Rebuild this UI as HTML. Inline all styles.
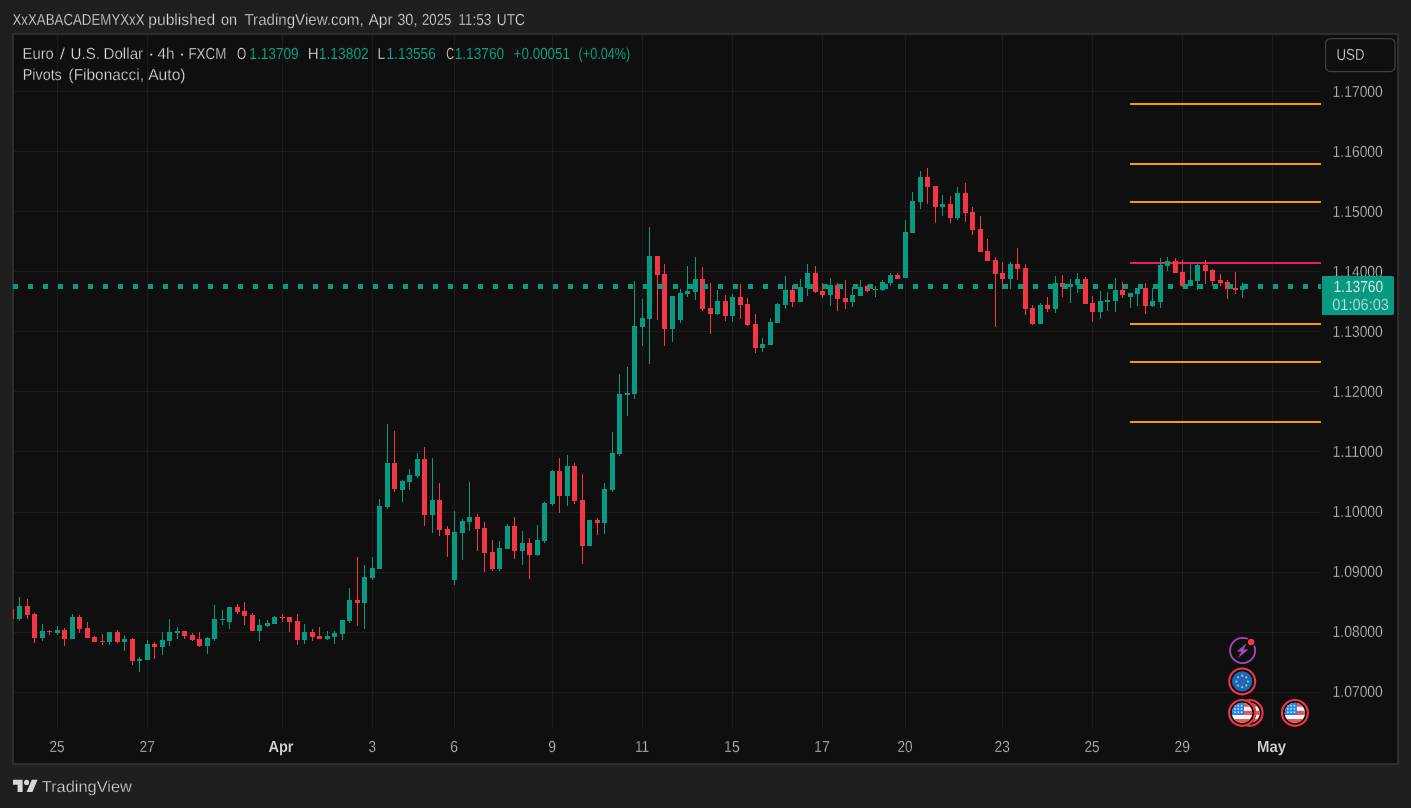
<!DOCTYPE html>
<html lang="en"><head><meta charset="utf-8"><title>EURUSD chart snapshot</title>
<style>
html,body{margin:0;padding:0;background:#1f1f1f;}
body{width:1411px;height:808px;overflow:hidden;}
svg{display:block;font-family:"Liberation Sans", Arial, sans-serif;}
.c rect{shape-rendering:crispEdges}
text{white-space:pre}
</style></head><body>
<svg width="1411" height="808" viewBox="0 0 1411 808">
<rect width="1411" height="808" fill="#1f1f1f"/>
<rect x="12" y="33" width="1387" height="732" fill="#2e2e2e" shape-rendering="crispEdges"/>
<rect x="14" y="35" width="1383" height="728" fill="#0f0f0f" shape-rendering="crispEdges"/>
<defs><clipPath id="cp"><rect x="13" y="35" width="1308" height="694"/></clipPath></defs>

<g class="c" fill="rgba(242,242,242,0.06)">
<rect x="14" y="91" width="1307" height="1"/>
<rect x="14" y="151" width="1307" height="1"/>
<rect x="14" y="211" width="1307" height="1"/>
<rect x="14" y="271" width="1307" height="1"/>
<rect x="14" y="331" width="1307" height="1"/>
<rect x="14" y="391" width="1307" height="1"/>
<rect x="14" y="451" width="1307" height="1"/>
<rect x="14" y="512" width="1307" height="1"/>
<rect x="14" y="572" width="1307" height="1"/>
<rect x="14" y="632" width="1307" height="1"/>
<rect x="14" y="692" width="1307" height="1"/>
<rect x="57" y="35" width="1" height="694"/>
<rect x="147" y="35" width="1" height="694"/>
<rect x="282" y="35" width="1" height="694"/>
<rect x="372" y="35" width="1" height="694"/>
<rect x="454" y="35" width="1" height="694"/>
<rect x="552" y="35" width="1" height="694"/>
<rect x="642" y="35" width="1" height="694"/>
<rect x="732" y="35" width="1" height="694"/>
<rect x="822" y="35" width="1" height="694"/>
<rect x="905" y="35" width="1" height="694"/>
<rect x="1002" y="35" width="1" height="694"/>
<rect x="1092" y="35" width="1" height="694"/>
<rect x="1182" y="35" width="1" height="694"/>
<rect x="1272" y="35" width="1" height="694"/>
</g>
<g class="c">
<rect x="1130" y="103" width="191" height="2" fill="#ff9800"/>
<rect x="1130" y="163" width="191" height="2" fill="#ff9800"/>
<rect x="1130" y="201" width="191" height="2" fill="#ff9800"/>
<rect x="1130" y="323" width="191" height="2" fill="#ff9800"/>
<rect x="1130" y="361" width="191" height="2" fill="#ff9800"/>
<rect x="1130" y="421" width="191" height="2" fill="#ff9800"/>
<rect x="1130" y="262" width="191" height="2" fill="#e91e63"/>
</g>
<g class="c" clip-path="url(#cp)">
<rect x="11" y="607" width="1" height="14" fill="#f23645"/><rect x="9" y="609" width="5" height="10" fill="#f23645"/>
<rect x="19" y="597" width="1" height="24" fill="#089981"/><rect x="17" y="606" width="5" height="13" fill="#089981"/>
<rect x="27" y="599" width="1" height="20" fill="#f23645"/><rect x="25" y="606" width="5" height="9" fill="#f23645"/>
<rect x="34" y="613" width="1" height="30" fill="#f23645"/><rect x="32" y="614" width="5" height="24" fill="#f23645"/>
<rect x="42" y="624" width="1" height="17" fill="#089981"/><rect x="40" y="631" width="5" height="7" fill="#089981"/>
<rect x="49" y="630" width="1" height="5" fill="#f23645"/><rect x="47" y="631" width="5" height="1" fill="#f23645"/>
<rect x="57" y="626" width="1" height="9" fill="#089981"/><rect x="55" y="630" width="5" height="3" fill="#089981"/>
<rect x="64" y="628" width="1" height="18" fill="#f23645"/><rect x="62" y="630" width="5" height="9" fill="#f23645"/>
<rect x="72" y="614" width="1" height="25" fill="#089981"/><rect x="70" y="617" width="5" height="22" fill="#089981"/>
<rect x="79" y="615" width="1" height="18" fill="#f23645"/><rect x="77" y="617" width="5" height="12" fill="#f23645"/>
<rect x="87" y="622" width="1" height="16" fill="#f23645"/><rect x="85" y="628" width="5" height="10" fill="#f23645"/>
<rect x="94" y="636" width="1" height="6" fill="#f23645"/><rect x="92" y="637" width="5" height="5" fill="#f23645"/>
<rect x="102" y="634" width="1" height="11" fill="#f23645"/><rect x="100" y="641" width="5" height="1" fill="#f23645"/>
<rect x="109" y="632" width="1" height="13" fill="#089981"/><rect x="107" y="632" width="5" height="10" fill="#089981"/>
<rect x="117" y="630" width="1" height="13" fill="#f23645"/><rect x="115" y="632" width="5" height="10" fill="#f23645"/>
<rect x="124" y="635" width="1" height="16" fill="#089981"/><rect x="122" y="639" width="5" height="3" fill="#089981"/>
<rect x="132" y="638" width="1" height="27" fill="#f23645"/><rect x="130" y="639" width="5" height="22" fill="#f23645"/>
<rect x="139" y="657" width="1" height="15" fill="#089981"/><rect x="137" y="659" width="5" height="2" fill="#089981"/>
<rect x="147" y="640" width="1" height="20" fill="#089981"/><rect x="145" y="644" width="5" height="16" fill="#089981"/>
<rect x="154" y="642" width="1" height="17" fill="#f23645"/><rect x="152" y="644" width="5" height="3" fill="#f23645"/>
<rect x="162" y="632" width="1" height="23" fill="#089981"/><rect x="160" y="640" width="5" height="7" fill="#089981"/>
<rect x="169" y="619" width="1" height="27" fill="#089981"/><rect x="167" y="632" width="5" height="9" fill="#089981"/>
<rect x="177" y="627" width="1" height="12" fill="#089981"/><rect x="175" y="631" width="5" height="2" fill="#089981"/>
<rect x="184" y="631" width="1" height="8" fill="#f23645"/><rect x="182" y="631" width="5" height="5" fill="#f23645"/>
<rect x="192" y="633" width="1" height="8" fill="#f23645"/><rect x="190" y="635" width="5" height="5" fill="#f23645"/>
<rect x="199" y="632" width="1" height="15" fill="#f23645"/><rect x="197" y="639" width="5" height="7" fill="#f23645"/>
<rect x="207" y="637" width="1" height="17" fill="#089981"/><rect x="205" y="638" width="5" height="8" fill="#089981"/>
<rect x="214" y="605" width="1" height="36" fill="#089981"/><rect x="212" y="619" width="5" height="20" fill="#089981"/>
<rect x="222" y="610" width="1" height="15" fill="#089981"/><rect x="220" y="619" width="5" height="1" fill="#089981"/>
<rect x="229" y="607" width="1" height="22" fill="#089981"/><rect x="227" y="607" width="5" height="15" fill="#089981"/>
<rect x="237" y="604" width="1" height="10" fill="#f23645"/><rect x="235" y="607" width="5" height="5" fill="#f23645"/>
<rect x="244" y="602" width="1" height="23" fill="#f23645"/><rect x="242" y="611" width="5" height="5" fill="#f23645"/>
<rect x="252" y="613" width="1" height="18" fill="#f23645"/><rect x="250" y="615" width="5" height="16" fill="#f23645"/>
<rect x="259" y="619" width="1" height="22" fill="#089981"/><rect x="257" y="625" width="5" height="6" fill="#089981"/>
<rect x="267" y="620" width="1" height="7" fill="#089981"/><rect x="265" y="623" width="5" height="3" fill="#089981"/>
<rect x="274" y="616" width="1" height="8" fill="#089981"/><rect x="272" y="617" width="5" height="7" fill="#089981"/>
<rect x="282" y="614" width="1" height="8" fill="#f23645"/><rect x="280" y="617" width="5" height="1" fill="#f23645"/>
<rect x="289" y="617" width="1" height="15" fill="#f23645"/><rect x="287" y="617" width="5" height="5" fill="#f23645"/>
<rect x="297" y="614" width="1" height="31" fill="#f23645"/><rect x="295" y="621" width="5" height="19" fill="#f23645"/>
<rect x="304" y="624" width="1" height="20" fill="#089981"/><rect x="302" y="632" width="5" height="8" fill="#089981"/>
<rect x="312" y="629" width="1" height="12" fill="#f23645"/><rect x="310" y="632" width="5" height="5" fill="#f23645"/>
<rect x="319" y="627" width="1" height="12" fill="#f23645"/><rect x="317" y="636" width="5" height="3" fill="#f23645"/>
<rect x="327" y="631" width="1" height="9" fill="#089981"/><rect x="325" y="636" width="5" height="3" fill="#089981"/>
<rect x="334" y="631" width="1" height="13" fill="#089981"/><rect x="332" y="633" width="5" height="4" fill="#089981"/>
<rect x="342" y="620" width="1" height="20" fill="#089981"/><rect x="340" y="620" width="5" height="14" fill="#089981"/>
<rect x="349" y="588" width="1" height="35" fill="#089981"/><rect x="347" y="600" width="5" height="21" fill="#089981"/>
<rect x="357" y="557" width="1" height="69" fill="#f23645"/><rect x="355" y="600" width="5" height="3" fill="#f23645"/>
<rect x="364" y="565" width="1" height="64" fill="#089981"/><rect x="362" y="577" width="5" height="26" fill="#089981"/>
<rect x="372" y="557" width="1" height="23" fill="#089981"/><rect x="370" y="568" width="5" height="10" fill="#089981"/>
<rect x="379" y="499" width="1" height="70" fill="#089981"/><rect x="377" y="506" width="5" height="63" fill="#089981"/>
<rect x="387" y="424" width="1" height="85" fill="#089981"/><rect x="385" y="463" width="5" height="44" fill="#089981"/>
<rect x="394" y="431" width="1" height="61" fill="#f23645"/><rect x="392" y="463" width="5" height="26" fill="#f23645"/>
<rect x="402" y="480" width="1" height="22" fill="#089981"/><rect x="400" y="481" width="5" height="9" fill="#089981"/>
<rect x="409" y="469" width="1" height="21" fill="#089981"/><rect x="407" y="475" width="5" height="7" fill="#089981"/>
<rect x="417" y="453" width="1" height="25" fill="#089981"/><rect x="415" y="459" width="5" height="17" fill="#089981"/>
<rect x="424" y="447" width="1" height="79" fill="#f23645"/><rect x="422" y="459" width="5" height="56" fill="#f23645"/>
<rect x="432" y="458" width="1" height="75" fill="#089981"/><rect x="430" y="500" width="5" height="15" fill="#089981"/>
<rect x="439" y="483" width="1" height="53" fill="#f23645"/><rect x="437" y="500" width="5" height="30" fill="#f23645"/>
<rect x="447" y="526" width="1" height="31" fill="#f23645"/><rect x="445" y="529" width="5" height="6" fill="#f23645"/>
<rect x="454" y="511" width="1" height="74" fill="#089981"/><rect x="452" y="532" width="5" height="48" fill="#089981"/>
<rect x="462" y="519" width="1" height="41" fill="#089981"/><rect x="460" y="521" width="5" height="12" fill="#089981"/>
<rect x="469" y="482" width="1" height="49" fill="#089981"/><rect x="467" y="517" width="5" height="5" fill="#089981"/>
<rect x="477" y="514" width="1" height="37" fill="#f23645"/><rect x="475" y="517" width="5" height="12" fill="#f23645"/>
<rect x="484" y="522" width="1" height="50" fill="#f23645"/><rect x="482" y="528" width="5" height="25" fill="#f23645"/>
<rect x="492" y="540" width="1" height="31" fill="#f23645"/><rect x="490" y="552" width="5" height="17" fill="#f23645"/>
<rect x="499" y="541" width="1" height="30" fill="#089981"/><rect x="497" y="548" width="5" height="21" fill="#089981"/>
<rect x="507" y="524" width="1" height="25" fill="#089981"/><rect x="505" y="526" width="5" height="23" fill="#089981"/>
<rect x="514" y="517" width="1" height="42" fill="#f23645"/><rect x="512" y="526" width="5" height="25" fill="#f23645"/>
<rect x="522" y="531" width="1" height="34" fill="#089981"/><rect x="520" y="543" width="5" height="8" fill="#089981"/>
<rect x="529" y="538" width="1" height="41" fill="#f23645"/><rect x="527" y="543" width="5" height="12" fill="#f23645"/>
<rect x="537" y="525" width="1" height="31" fill="#089981"/><rect x="535" y="540" width="5" height="15" fill="#089981"/>
<rect x="544" y="502" width="1" height="41" fill="#089981"/><rect x="542" y="503" width="5" height="38" fill="#089981"/>
<rect x="552" y="470" width="1" height="36" fill="#089981"/><rect x="550" y="471" width="5" height="33" fill="#089981"/>
<rect x="559" y="458" width="1" height="55" fill="#f23645"/><rect x="557" y="471" width="5" height="25" fill="#f23645"/>
<rect x="567" y="455" width="1" height="51" fill="#089981"/><rect x="565" y="466" width="5" height="30" fill="#089981"/>
<rect x="574" y="463" width="1" height="41" fill="#f23645"/><rect x="572" y="466" width="5" height="35" fill="#f23645"/>
<rect x="582" y="474" width="1" height="90" fill="#f23645"/><rect x="580" y="500" width="5" height="46" fill="#f23645"/>
<rect x="589" y="520" width="1" height="26" fill="#089981"/><rect x="587" y="520" width="5" height="26" fill="#089981"/>
<rect x="597" y="518" width="1" height="17" fill="#f23645"/><rect x="595" y="520" width="5" height="3" fill="#f23645"/>
<rect x="604" y="483" width="1" height="51" fill="#089981"/><rect x="602" y="489" width="5" height="34" fill="#089981"/>
<rect x="612" y="432" width="1" height="60" fill="#089981"/><rect x="610" y="453" width="5" height="37" fill="#089981"/>
<rect x="619" y="374" width="1" height="82" fill="#089981"/><rect x="617" y="394" width="5" height="60" fill="#089981"/>
<rect x="627" y="367" width="1" height="49" fill="#089981"/><rect x="625" y="393" width="5" height="2" fill="#089981"/>
<rect x="634" y="281" width="1" height="118" fill="#089981"/><rect x="632" y="326" width="5" height="68" fill="#089981"/>
<rect x="642" y="299" width="1" height="47" fill="#089981"/><rect x="640" y="318" width="5" height="9" fill="#089981"/>
<rect x="649" y="227" width="1" height="137" fill="#089981"/><rect x="647" y="256" width="5" height="63" fill="#089981"/>
<rect x="657" y="256" width="1" height="64" fill="#f23645"/><rect x="655" y="256" width="5" height="19" fill="#f23645"/>
<rect x="664" y="264" width="1" height="82" fill="#f23645"/><rect x="662" y="274" width="5" height="55" fill="#f23645"/>
<rect x="672" y="296" width="1" height="46" fill="#089981"/><rect x="670" y="296" width="5" height="33" fill="#089981"/>
<rect x="680" y="289" width="1" height="34" fill="#089981"/><rect x="678" y="293" width="5" height="27" fill="#089981"/>
<rect x="687" y="266" width="1" height="31" fill="#089981"/><rect x="685" y="291" width="5" height="3" fill="#089981"/>
<rect x="695" y="257" width="1" height="43" fill="#089981"/><rect x="693" y="279" width="5" height="13" fill="#089981"/>
<rect x="702" y="267" width="1" height="44" fill="#f23645"/><rect x="700" y="279" width="5" height="30" fill="#f23645"/>
<rect x="710" y="283" width="1" height="51" fill="#f23645"/><rect x="708" y="308" width="5" height="6" fill="#f23645"/>
<rect x="717" y="290" width="1" height="25" fill="#089981"/><rect x="715" y="301" width="5" height="13" fill="#089981"/>
<rect x="725" y="295" width="1" height="26" fill="#f23645"/><rect x="723" y="301" width="5" height="15" fill="#f23645"/>
<rect x="732" y="294" width="1" height="28" fill="#089981"/><rect x="730" y="297" width="5" height="19" fill="#089981"/>
<rect x="740" y="284" width="1" height="35" fill="#f23645"/><rect x="738" y="297" width="5" height="8" fill="#f23645"/>
<rect x="747" y="298" width="1" height="28" fill="#f23645"/><rect x="745" y="304" width="5" height="21" fill="#f23645"/>
<rect x="755" y="314" width="1" height="39" fill="#f23645"/><rect x="753" y="324" width="5" height="24" fill="#f23645"/>
<rect x="762" y="338" width="1" height="14" fill="#089981"/><rect x="760" y="344" width="5" height="4" fill="#089981"/>
<rect x="770" y="318" width="1" height="27" fill="#089981"/><rect x="768" y="322" width="5" height="23" fill="#089981"/>
<rect x="777" y="303" width="1" height="20" fill="#089981"/><rect x="775" y="304" width="5" height="19" fill="#089981"/>
<rect x="785" y="276" width="1" height="33" fill="#089981"/><rect x="783" y="290" width="5" height="15" fill="#089981"/>
<rect x="792" y="285" width="1" height="22" fill="#f23645"/><rect x="790" y="290" width="5" height="12" fill="#f23645"/>
<rect x="800" y="279" width="1" height="23" fill="#089981"/><rect x="798" y="287" width="5" height="15" fill="#089981"/>
<rect x="807" y="264" width="1" height="32" fill="#089981"/><rect x="805" y="273" width="5" height="15" fill="#089981"/>
<rect x="815" y="266" width="1" height="27" fill="#f23645"/><rect x="813" y="273" width="5" height="19" fill="#f23645"/>
<rect x="822" y="283" width="1" height="15" fill="#f23645"/><rect x="820" y="291" width="5" height="4" fill="#f23645"/>
<rect x="830" y="278" width="1" height="28" fill="#089981"/><rect x="828" y="285" width="5" height="10" fill="#089981"/>
<rect x="837" y="283" width="1" height="28" fill="#f23645"/><rect x="835" y="285" width="5" height="14" fill="#f23645"/>
<rect x="845" y="280" width="1" height="29" fill="#f23645"/><rect x="843" y="298" width="5" height="4" fill="#f23645"/>
<rect x="852" y="287" width="1" height="20" fill="#089981"/><rect x="850" y="295" width="5" height="7" fill="#089981"/>
<rect x="860" y="280" width="1" height="16" fill="#089981"/><rect x="858" y="287" width="5" height="9" fill="#089981"/>
<rect x="867" y="285" width="1" height="7" fill="#f23645"/><rect x="865" y="286" width="5" height="5" fill="#f23645"/>
<rect x="875" y="286" width="1" height="11" fill="#089981"/><rect x="873" y="289" width="5" height="1" fill="#089981"/>
<rect x="882" y="280" width="1" height="11" fill="#089981"/><rect x="880" y="282" width="5" height="8" fill="#089981"/>
<rect x="890" y="273" width="1" height="13" fill="#089981"/><rect x="888" y="275" width="5" height="8" fill="#089981"/>
<rect x="897" y="273" width="1" height="6" fill="#f23645"/><rect x="895" y="275" width="5" height="4" fill="#f23645"/>
<rect x="905" y="220" width="1" height="58" fill="#089981"/><rect x="903" y="232" width="5" height="46" fill="#089981"/>
<rect x="912" y="192" width="1" height="41" fill="#089981"/><rect x="910" y="201" width="5" height="32" fill="#089981"/>
<rect x="920" y="171" width="1" height="38" fill="#089981"/><rect x="918" y="177" width="5" height="25" fill="#089981"/>
<rect x="927" y="168" width="1" height="36" fill="#f23645"/><rect x="925" y="177" width="5" height="10" fill="#f23645"/>
<rect x="935" y="186" width="1" height="37" fill="#f23645"/><rect x="933" y="186" width="5" height="21" fill="#f23645"/>
<rect x="942" y="195" width="1" height="21" fill="#089981"/><rect x="940" y="204" width="5" height="3" fill="#089981"/>
<rect x="950" y="196" width="1" height="27" fill="#f23645"/><rect x="948" y="204" width="5" height="14" fill="#f23645"/>
<rect x="957" y="187" width="1" height="33" fill="#089981"/><rect x="955" y="193" width="5" height="25" fill="#089981"/>
<rect x="965" y="183" width="1" height="39" fill="#f23645"/><rect x="963" y="193" width="5" height="20" fill="#f23645"/>
<rect x="972" y="207" width="1" height="28" fill="#f23645"/><rect x="970" y="212" width="5" height="18" fill="#f23645"/>
<rect x="980" y="216" width="1" height="36" fill="#f23645"/><rect x="978" y="229" width="5" height="23" fill="#f23645"/>
<rect x="987" y="239" width="1" height="22" fill="#f23645"/><rect x="985" y="251" width="5" height="10" fill="#f23645"/>
<rect x="995" y="257" width="1" height="70" fill="#f23645"/><rect x="993" y="260" width="5" height="14" fill="#f23645"/>
<rect x="1002" y="262" width="1" height="27" fill="#f23645"/><rect x="1000" y="273" width="5" height="6" fill="#f23645"/>
<rect x="1010" y="262" width="1" height="27" fill="#089981"/><rect x="1008" y="264" width="5" height="15" fill="#089981"/>
<rect x="1017" y="248" width="1" height="32" fill="#f23645"/><rect x="1015" y="264" width="5" height="5" fill="#f23645"/>
<rect x="1025" y="264" width="1" height="51" fill="#f23645"/><rect x="1023" y="268" width="5" height="41" fill="#f23645"/>
<rect x="1032" y="305" width="1" height="20" fill="#f23645"/><rect x="1030" y="308" width="5" height="16" fill="#f23645"/>
<rect x="1040" y="303" width="1" height="21" fill="#089981"/><rect x="1038" y="305" width="5" height="19" fill="#089981"/>
<rect x="1047" y="297" width="1" height="15" fill="#f23645"/><rect x="1045" y="305" width="5" height="4" fill="#f23645"/>
<rect x="1055" y="276" width="1" height="37" fill="#089981"/><rect x="1053" y="283" width="5" height="26" fill="#089981"/>
<rect x="1062" y="275" width="1" height="22" fill="#f23645"/><rect x="1060" y="283" width="5" height="4" fill="#f23645"/>
<rect x="1070" y="279" width="1" height="24" fill="#089981"/><rect x="1068" y="284" width="5" height="3" fill="#089981"/>
<rect x="1077" y="273" width="1" height="20" fill="#089981"/><rect x="1075" y="279" width="5" height="6" fill="#089981"/>
<rect x="1085" y="277" width="1" height="27" fill="#f23645"/><rect x="1083" y="279" width="5" height="25" fill="#f23645"/>
<rect x="1092" y="296" width="1" height="26" fill="#f23645"/><rect x="1090" y="303" width="5" height="9" fill="#f23645"/>
<rect x="1100" y="291" width="1" height="28" fill="#089981"/><rect x="1098" y="301" width="5" height="11" fill="#089981"/>
<rect x="1107" y="292" width="1" height="19" fill="#089981"/><rect x="1105" y="300" width="5" height="2" fill="#089981"/>
<rect x="1115" y="278" width="1" height="34" fill="#089981"/><rect x="1113" y="290" width="5" height="11" fill="#089981"/>
<rect x="1122" y="282" width="1" height="16" fill="#f23645"/><rect x="1120" y="290" width="5" height="5" fill="#f23645"/>
<rect x="1130" y="293" width="1" height="15" fill="#089981"/><rect x="1128" y="293" width="5" height="4" fill="#089981"/>
<rect x="1137" y="288" width="1" height="18" fill="#089981"/><rect x="1135" y="288" width="5" height="6" fill="#089981"/>
<rect x="1145" y="283" width="1" height="31" fill="#f23645"/><rect x="1143" y="288" width="5" height="18" fill="#f23645"/>
<rect x="1152" y="288" width="1" height="19" fill="#089981"/><rect x="1150" y="301" width="5" height="5" fill="#089981"/>
<rect x="1160" y="258" width="1" height="50" fill="#089981"/><rect x="1158" y="265" width="5" height="37" fill="#089981"/>
<rect x="1167" y="257" width="1" height="14" fill="#089981"/><rect x="1165" y="261" width="5" height="5" fill="#089981"/>
<rect x="1175" y="258" width="1" height="15" fill="#f23645"/><rect x="1173" y="261" width="5" height="12" fill="#f23645"/>
<rect x="1182" y="260" width="1" height="27" fill="#f23645"/><rect x="1180" y="272" width="5" height="14" fill="#f23645"/>
<rect x="1190" y="264" width="1" height="22" fill="#089981"/><rect x="1188" y="280" width="5" height="6" fill="#089981"/>
<rect x="1197" y="263" width="1" height="27" fill="#089981"/><rect x="1195" y="265" width="5" height="16" fill="#089981"/>
<rect x="1205" y="260" width="1" height="24" fill="#f23645"/><rect x="1203" y="265" width="5" height="6" fill="#f23645"/>
<rect x="1212" y="269" width="1" height="17" fill="#f23645"/><rect x="1210" y="270" width="5" height="11" fill="#f23645"/>
<rect x="1220" y="274" width="1" height="12" fill="#f23645"/><rect x="1218" y="280" width="5" height="3" fill="#f23645"/>
<rect x="1227" y="280" width="1" height="19" fill="#f23645"/><rect x="1225" y="282" width="5" height="7" fill="#f23645"/>
<rect x="1235" y="272" width="1" height="22" fill="#f23645"/><rect x="1233" y="288" width="5" height="2" fill="#f23645"/>
<rect x="1242" y="283" width="1" height="15" fill="#089981"/><rect x="1240" y="286" width="5" height="4" fill="#089981"/>
</g>
<g class="c" fill="#089981" clip-path="url(#cp)">
<rect x="13" y="284" width="5" height="5"/>
<rect x="28" y="284" width="5" height="5"/>
<rect x="43" y="284" width="5" height="5"/>
<rect x="58" y="284" width="5" height="5"/>
<rect x="73" y="284" width="5" height="5"/>
<rect x="88" y="284" width="5" height="5"/>
<rect x="103" y="284" width="5" height="5"/>
<rect x="118" y="284" width="5" height="5"/>
<rect x="133" y="284" width="5" height="5"/>
<rect x="148" y="284" width="5" height="5"/>
<rect x="163" y="284" width="5" height="5"/>
<rect x="178" y="284" width="5" height="5"/>
<rect x="193" y="284" width="5" height="5"/>
<rect x="208" y="284" width="5" height="5"/>
<rect x="223" y="284" width="5" height="5"/>
<rect x="238" y="284" width="5" height="5"/>
<rect x="253" y="284" width="5" height="5"/>
<rect x="268" y="284" width="5" height="5"/>
<rect x="283" y="284" width="5" height="5"/>
<rect x="298" y="284" width="5" height="5"/>
<rect x="313" y="284" width="5" height="5"/>
<rect x="328" y="284" width="5" height="5"/>
<rect x="343" y="284" width="5" height="5"/>
<rect x="358" y="284" width="5" height="5"/>
<rect x="373" y="284" width="5" height="5"/>
<rect x="388" y="284" width="5" height="5"/>
<rect x="403" y="284" width="5" height="5"/>
<rect x="418" y="284" width="5" height="5"/>
<rect x="433" y="284" width="5" height="5"/>
<rect x="448" y="284" width="5" height="5"/>
<rect x="463" y="284" width="5" height="5"/>
<rect x="478" y="284" width="5" height="5"/>
<rect x="493" y="284" width="5" height="5"/>
<rect x="508" y="284" width="5" height="5"/>
<rect x="523" y="284" width="5" height="5"/>
<rect x="538" y="284" width="5" height="5"/>
<rect x="553" y="284" width="5" height="5"/>
<rect x="568" y="284" width="5" height="5"/>
<rect x="583" y="284" width="5" height="5"/>
<rect x="598" y="284" width="5" height="5"/>
<rect x="613" y="284" width="5" height="5"/>
<rect x="628" y="284" width="5" height="5"/>
<rect x="643" y="284" width="5" height="5"/>
<rect x="658" y="284" width="5" height="5"/>
<rect x="673" y="284" width="5" height="5"/>
<rect x="688" y="284" width="5" height="5"/>
<rect x="703" y="284" width="5" height="5"/>
<rect x="718" y="284" width="5" height="5"/>
<rect x="733" y="284" width="5" height="5"/>
<rect x="748" y="284" width="5" height="5"/>
<rect x="763" y="284" width="5" height="5"/>
<rect x="778" y="284" width="5" height="5"/>
<rect x="793" y="284" width="5" height="5"/>
<rect x="808" y="284" width="5" height="5"/>
<rect x="823" y="284" width="5" height="5"/>
<rect x="838" y="284" width="5" height="5"/>
<rect x="853" y="284" width="5" height="5"/>
<rect x="868" y="284" width="5" height="5"/>
<rect x="883" y="284" width="5" height="5"/>
<rect x="898" y="284" width="5" height="5"/>
<rect x="913" y="284" width="5" height="5"/>
<rect x="928" y="284" width="5" height="5"/>
<rect x="943" y="284" width="5" height="5"/>
<rect x="958" y="284" width="5" height="5"/>
<rect x="973" y="284" width="5" height="5"/>
<rect x="988" y="284" width="5" height="5"/>
<rect x="1003" y="284" width="5" height="5"/>
<rect x="1018" y="284" width="5" height="5"/>
<rect x="1033" y="284" width="5" height="5"/>
<rect x="1048" y="284" width="5" height="5"/>
<rect x="1063" y="284" width="5" height="5"/>
<rect x="1078" y="284" width="5" height="5"/>
<rect x="1093" y="284" width="5" height="5"/>
<rect x="1108" y="284" width="5" height="5"/>
<rect x="1123" y="284" width="5" height="5"/>
<rect x="1138" y="284" width="5" height="5"/>
<rect x="1153" y="284" width="5" height="5"/>
<rect x="1168" y="284" width="5" height="5"/>
<rect x="1183" y="284" width="5" height="5"/>
<rect x="1198" y="284" width="5" height="5"/>
<rect x="1213" y="284" width="5" height="5"/>
<rect x="1228" y="284" width="5" height="5"/>
<rect x="1243" y="284" width="5" height="5"/>
<rect x="1258" y="284" width="5" height="5"/>
<rect x="1273" y="284" width="5" height="5"/>
<rect x="1288" y="284" width="5" height="5"/>
<rect x="1303" y="284" width="5" height="5"/>
<rect x="1318" y="284" width="5" height="5"/>
</g>
<rect x="1325.6" y="38.6" width="69.4" height="33" rx="5" ry="5" fill="none" stroke="#404040" stroke-width="1.25"/>
<g>
<circle cx="1249.6" cy="712.9" r="14" fill="#0f0f0f"/><circle cx="1249.6" cy="712.9" r="12.95" fill="none" stroke="#f23645" stroke-width="2.1"/>
<clipPath id="u2"><circle cx="1249.6" cy="712.9" r="10.2"/></clipPath><g clip-path="url(#u2)">
<rect x="1238.6" y="701.9" width="22" height="22" fill="#fafafa"/>
<rect x="1238.6" y="702.65" width="22" height="4.10" fill="#ef5350"/>
<rect x="1238.6" y="710.85" width="22" height="4.10" fill="#ef5350"/>
<rect x="1238.6" y="719.05" width="22" height="4.10" fill="#ef5350"/>
<rect x="1238.6" y="701.9" width="13.0" height="13.05" fill="#1e88e5"/>
<rect x="1241.70" y="704.90" width="1.6" height="1.6" fill="#d4e6f9"/>
<rect x="1245.00" y="704.90" width="1.6" height="1.6" fill="#d4e6f9"/>
<rect x="1248.30" y="704.90" width="1.6" height="1.6" fill="#d4e6f9"/>
<rect x="1241.70" y="708.15" width="1.6" height="1.6" fill="#d4e6f9"/>
<rect x="1245.00" y="708.15" width="1.6" height="1.6" fill="#d4e6f9"/>
<rect x="1248.30" y="708.15" width="1.6" height="1.6" fill="#d4e6f9"/>
<rect x="1241.70" y="711.40" width="1.6" height="1.6" fill="#d4e6f9"/>
<rect x="1245.00" y="711.40" width="1.6" height="1.6" fill="#d4e6f9"/>
<rect x="1248.30" y="711.40" width="1.6" height="1.6" fill="#d4e6f9"/>
</g></g>
<g>
<circle cx="1242.1" cy="712.9" r="14" fill="#0f0f0f"/><circle cx="1242.1" cy="712.9" r="12.95" fill="none" stroke="#f23645" stroke-width="2.1"/>
<clipPath id="u1"><circle cx="1242.1" cy="712.9" r="10.2"/></clipPath><g clip-path="url(#u1)">
<rect x="1231.1" y="701.9" width="22" height="22" fill="#fafafa"/>
<rect x="1231.1" y="702.65" width="22" height="4.10" fill="#ef5350"/>
<rect x="1231.1" y="710.85" width="22" height="4.10" fill="#ef5350"/>
<rect x="1231.1" y="719.05" width="22" height="4.10" fill="#ef5350"/>
<rect x="1231.1" y="701.9" width="13.0" height="13.05" fill="#1e88e5"/>
<rect x="1234.20" y="704.90" width="1.6" height="1.6" fill="#d4e6f9"/>
<rect x="1237.50" y="704.90" width="1.6" height="1.6" fill="#d4e6f9"/>
<rect x="1240.80" y="704.90" width="1.6" height="1.6" fill="#d4e6f9"/>
<rect x="1234.20" y="708.15" width="1.6" height="1.6" fill="#d4e6f9"/>
<rect x="1237.50" y="708.15" width="1.6" height="1.6" fill="#d4e6f9"/>
<rect x="1240.80" y="708.15" width="1.6" height="1.6" fill="#d4e6f9"/>
<rect x="1234.20" y="711.40" width="1.6" height="1.6" fill="#d4e6f9"/>
<rect x="1237.50" y="711.40" width="1.6" height="1.6" fill="#d4e6f9"/>
<rect x="1240.80" y="711.40" width="1.6" height="1.6" fill="#d4e6f9"/>
</g></g>
<g>
<circle cx="1294.9" cy="712.9" r="14" fill="#0f0f0f"/><circle cx="1294.9" cy="712.9" r="12.95" fill="none" stroke="#f23645" stroke-width="2.1"/>
<clipPath id="u3"><circle cx="1294.9" cy="712.9" r="10.2"/></clipPath><g clip-path="url(#u3)">
<rect x="1283.9" y="701.9" width="22" height="22" fill="#fafafa"/>
<rect x="1283.9" y="702.65" width="22" height="4.10" fill="#ef5350"/>
<rect x="1283.9" y="710.85" width="22" height="4.10" fill="#ef5350"/>
<rect x="1283.9" y="719.05" width="22" height="4.10" fill="#ef5350"/>
<rect x="1283.9" y="701.9" width="13.0" height="13.05" fill="#1e88e5"/>
<rect x="1287.00" y="704.90" width="1.6" height="1.6" fill="#d4e6f9"/>
<rect x="1290.30" y="704.90" width="1.6" height="1.6" fill="#d4e6f9"/>
<rect x="1293.60" y="704.90" width="1.6" height="1.6" fill="#d4e6f9"/>
<rect x="1287.00" y="708.15" width="1.6" height="1.6" fill="#d4e6f9"/>
<rect x="1290.30" y="708.15" width="1.6" height="1.6" fill="#d4e6f9"/>
<rect x="1293.60" y="708.15" width="1.6" height="1.6" fill="#d4e6f9"/>
<rect x="1287.00" y="711.40" width="1.6" height="1.6" fill="#d4e6f9"/>
<rect x="1290.30" y="711.40" width="1.6" height="1.6" fill="#d4e6f9"/>
<rect x="1293.60" y="711.40" width="1.6" height="1.6" fill="#d4e6f9"/>
</g></g>
<circle cx="1242.2" cy="681.45" r="14" fill="#0f0f0f"/><circle cx="1242.2" cy="681.45" r="12.95" fill="none" stroke="#f23645" stroke-width="2.1"/>
<circle cx="1242.2" cy="681.45" r="10.1" fill="#1967c2"/>
<circle cx="1242.20" cy="675.65" r="1.05" fill="#e3ca45"/>
<circle cx="1246.30" cy="677.35" r="1.05" fill="#e3ca45"/>
<circle cx="1248.00" cy="681.45" r="1.05" fill="#e3ca45"/>
<circle cx="1246.30" cy="685.55" r="1.05" fill="#e3ca45"/>
<circle cx="1242.20" cy="687.25" r="1.05" fill="#e3ca45"/>
<circle cx="1238.10" cy="685.55" r="1.05" fill="#e3ca45"/>
<circle cx="1236.40" cy="681.45" r="1.05" fill="#e3ca45"/>
<circle cx="1238.10" cy="677.35" r="1.05" fill="#e3ca45"/>
<circle cx="1242.6" cy="650.5" r="12.55" fill="none" stroke="#ab47bc" stroke-width="1.8"/>
<polygon points="1246,643.9 1237.3,651.3 1241.7,651.3 1238.7,657.3 1247.8,649.7 1243.3,649.7" fill="#ab47bc" stroke="#ab47bc" stroke-width="0.5" stroke-linejoin="round"/>
<circle cx="1251.1" cy="641.9" r="4.6" fill="#0f0f0f"/><circle cx="1251.1" cy="641.9" r="3.25" fill="#f23645"/>
<g fill="#d6d6d6"><path d="M13 779.8h9.6v12.2h-5v-7.2H13z"/><circle cx="26.6" cy="782.4" r="2.6"/><path d="M31.8 779.8h5.8l-5.2 12.2h-5.8z"/></g>
<text transform="matrix(1 0 0.001 1 -0.0250 0)" x="12.48" y="25.0" fill="#dedede" font-size="16" textLength="132.15" lengthAdjust="spacingAndGlyphs" stroke="#1f1f1f" stroke-width="0.3">XxXABACADEMYXxX</text>
<text transform="matrix(1 0 0.001 1 -0.0250 0)" x="148.22" y="25.0" fill="#dedede" font-size="16" textLength="67.06" lengthAdjust="spacingAndGlyphs" stroke="#1f1f1f" stroke-width="0.3">published</text>
<text transform="matrix(1 0 0.001 1 -0.0250 0)" x="221.02" y="25.0" fill="#dedede" font-size="16" textLength="16.13" lengthAdjust="spacingAndGlyphs" stroke="#1f1f1f" stroke-width="0.3">on</text>
<text transform="matrix(1 0 0.001 1 -0.0250 0)" x="244.46" y="25.0" fill="#dedede" font-size="16" textLength="119.18" lengthAdjust="spacingAndGlyphs" stroke="#1f1f1f" stroke-width="0.3">TradingView.com,</text>
<text transform="matrix(1 0 0.001 1 -0.0250 0)" x="368.4" y="25.0" fill="#dedede" font-size="16" textLength="24.35" lengthAdjust="spacingAndGlyphs" stroke="#1f1f1f" stroke-width="0.3">Apr</text>
<text transform="matrix(1 0 0.001 1 -0.0250 0)" x="397.24" y="25.0" fill="#dedede" font-size="16" textLength="20.33" lengthAdjust="spacingAndGlyphs" stroke="#1f1f1f" stroke-width="0.3">30,</text>
<text transform="matrix(1 0 0.001 1 -0.0250 0)" x="421.98" y="25.0" fill="#dedede" font-size="16" textLength="29.41" lengthAdjust="spacingAndGlyphs" stroke="#1f1f1f" stroke-width="0.3">2025</text>
<text transform="matrix(1 0 0.001 1 -0.0250 0)" x="458.23" y="25.0" fill="#dedede" font-size="16" textLength="33.19" lengthAdjust="spacingAndGlyphs" stroke="#1f1f1f" stroke-width="0.3">11:53</text>
<text transform="matrix(1 0 0.001 1 -0.0250 0)" x="496.83" y="25.0" fill="#dedede" font-size="16" textLength="28.12" lengthAdjust="spacingAndGlyphs" stroke="#1f1f1f" stroke-width="0.3">UTC</text>
<text transform="matrix(1 0 0.001 1 -0.0590 0)" x="22.54" y="59.0" fill="#dedede" font-size="16" textLength="31.26" lengthAdjust="spacingAndGlyphs" stroke="#0f0f0f" stroke-width="0.3">Euro</text>
<text transform="matrix(1 0 0.001 1 -0.0590 0)" x="59.8" y="59.0" fill="#dedede" font-size="16" textLength="5.34" lengthAdjust="spacingAndGlyphs" stroke="#0f0f0f" stroke-width="0.3">/</text>
<text transform="matrix(1 0 0.001 1 -0.0590 0)" x="70.62" y="59.0" fill="#dedede" font-size="16" textLength="29.27" lengthAdjust="spacingAndGlyphs" stroke="#0f0f0f" stroke-width="0.3">U.S.</text>
<text transform="matrix(1 0 0.001 1 -0.0590 0)" x="103.41" y="59.0" fill="#dedede" font-size="16" textLength="39.77" lengthAdjust="spacingAndGlyphs" stroke="#0f0f0f" stroke-width="0.3">Dollar</text>
<text transform="matrix(1 0 0.001 1 -0.0590 0)" x="157.56" y="59.0" fill="#dedede" font-size="16" textLength="17.04" lengthAdjust="spacingAndGlyphs" stroke="#0f0f0f" stroke-width="0.3">4h</text>
<text transform="matrix(1 0 0.001 1 -0.0590 0)" x="188.46" y="59.0" fill="#dedede" font-size="16" textLength="37.85" lengthAdjust="spacingAndGlyphs" stroke="#0f0f0f" stroke-width="0.3">FXCM</text>
<text transform="matrix(1 0 0.001 1 -0.0590 0)" x="236.94" y="59.0" fill="#dedede" font-size="16" textLength="9.28" lengthAdjust="spacingAndGlyphs" stroke="#0f0f0f" stroke-width="0.3">O</text>
<text transform="matrix(1 0 0.001 1 -0.0590 0)" x="307.72" y="59.0" fill="#dedede" font-size="16" textLength="10.92" lengthAdjust="spacingAndGlyphs" stroke="#0f0f0f" stroke-width="0.3">H</text>
<text transform="matrix(1 0 0.001 1 -0.0590 0)" x="377.61" y="59.0" fill="#dedede" font-size="16" textLength="7.74" lengthAdjust="spacingAndGlyphs" stroke="#0f0f0f" stroke-width="0.3">L</text>
<text transform="matrix(1 0 0.001 1 -0.0590 0)" x="446.3" y="59.0" fill="#dedede" font-size="16" textLength="7.78" lengthAdjust="spacingAndGlyphs" stroke="#0f0f0f" stroke-width="0.3">C</text>
<text transform="matrix(1 0 0.001 1 -0.0590 0)" x="249.33" y="59.0" fill="#0aa68c" font-size="16" textLength="49.39" lengthAdjust="spacingAndGlyphs" stroke="#0f0f0f" stroke-width="0.1">1.13709</text>
<text transform="matrix(1 0 0.001 1 -0.0590 0)" x="318.72" y="59.0" fill="#0aa68c" font-size="16" textLength="50.11" lengthAdjust="spacingAndGlyphs" stroke="#0f0f0f" stroke-width="0.1">1.13802</text>
<text transform="matrix(1 0 0.001 1 -0.0590 0)" x="386.54" y="59.0" fill="#0aa68c" font-size="16" textLength="49.17" lengthAdjust="spacingAndGlyphs" stroke="#0f0f0f" stroke-width="0.1">1.13556</text>
<text transform="matrix(1 0 0.001 1 -0.0590 0)" x="454.63" y="59.0" fill="#0aa68c" font-size="16" textLength="49.48" lengthAdjust="spacingAndGlyphs" stroke="#0f0f0f" stroke-width="0.1">1.13760</text>
<text transform="matrix(1 0 0.001 1 -0.0590 0)" x="513.57" y="59.0" fill="#0aa68c" font-size="16" textLength="56.51" lengthAdjust="spacingAndGlyphs" stroke="#0f0f0f" stroke-width="0.1">+0.00051</text>
<text transform="matrix(1 0 0.001 1 -0.0590 0)" x="578.61" y="59.0" fill="#0aa68c" font-size="16" textLength="51.68" lengthAdjust="spacingAndGlyphs" stroke="#0f0f0f" stroke-width="0.1">(+0.04%)</text>
<text transform="matrix(1 0 0.001 1 -0.0800 0)" x="22.68" y="80.0" fill="#dedede" font-size="16" textLength="39.14" lengthAdjust="spacingAndGlyphs" stroke="#0f0f0f" stroke-width="0.3">Pivots</text>
<text transform="matrix(1 0 0.001 1 -0.0800 0)" x="68.54" y="80.0" fill="#dedede" font-size="16" textLength="75.41" lengthAdjust="spacingAndGlyphs" stroke="#0f0f0f" stroke-width="0.3">(Fibonacci,</text>
<text transform="matrix(1 0 0.001 1 -0.0800 0)" x="148.2" y="80.0" fill="#dedede" font-size="16" textLength="37.38" lengthAdjust="spacingAndGlyphs" stroke="#0f0f0f" stroke-width="0.3">Auto)</text>
<text transform="matrix(1 0 0.001 1 -0.0600 0)" x="1336.57" y="60.0" fill="#dedede" font-size="16" textLength="27.88" lengthAdjust="spacingAndGlyphs" stroke="#0f0f0f" stroke-width="0.3">USD</text>
<text transform="matrix(1 0 0.001 1 -0.0590 0)" x="148.2" y="59.0" fill="#dedede" font-size="16" textLength="6.09" lengthAdjust="spacingAndGlyphs">·</text>
<text transform="matrix(1 0 0.001 1 -0.0590 0)" x="179.0" y="59.0" fill="#dedede" font-size="16" textLength="6.09" lengthAdjust="spacingAndGlyphs">·</text>
<text transform="matrix(1 0 0.001 1 -0.0970 0)" x="1332.62" y="97.0" fill="#c4c4c4" font-size="16" textLength="50.2" lengthAdjust="spacingAndGlyphs" stroke="#0f0f0f" stroke-width="0.3">1.17000</text>
<text transform="matrix(1 0 0.001 1 -0.1570 0)" x="1332.62" y="157.0" fill="#c4c4c4" font-size="16" textLength="50.2" lengthAdjust="spacingAndGlyphs" stroke="#0f0f0f" stroke-width="0.3">1.16000</text>
<text transform="matrix(1 0 0.001 1 -0.2170 0)" x="1332.62" y="217.0" fill="#c4c4c4" font-size="16" textLength="50.2" lengthAdjust="spacingAndGlyphs" stroke="#0f0f0f" stroke-width="0.3">1.15000</text>
<text transform="matrix(1 0 0.001 1 -0.2770 0)" x="1332.62" y="277.0" fill="#c4c4c4" font-size="16" textLength="50.2" lengthAdjust="spacingAndGlyphs" stroke="#0f0f0f" stroke-width="0.3">1.14000</text>
<text transform="matrix(1 0 0.001 1 -0.3370 0)" x="1332.62" y="337.0" fill="#c4c4c4" font-size="16" textLength="50.2" lengthAdjust="spacingAndGlyphs" stroke="#0f0f0f" stroke-width="0.3">1.13000</text>
<text transform="matrix(1 0 0.001 1 -0.3970 0)" x="1332.62" y="397.0" fill="#c4c4c4" font-size="16" textLength="50.2" lengthAdjust="spacingAndGlyphs" stroke="#0f0f0f" stroke-width="0.3">1.12000</text>
<text transform="matrix(1 0 0.001 1 -0.4570 0)" x="1332.59" y="457.0" fill="#c4c4c4" font-size="16" textLength="50.29" lengthAdjust="spacingAndGlyphs" stroke="#0f0f0f" stroke-width="0.3">1.11000</text>
<text transform="matrix(1 0 0.001 1 -0.5170 0)" x="1332.62" y="517.0" fill="#c4c4c4" font-size="16" textLength="50.2" lengthAdjust="spacingAndGlyphs" stroke="#0f0f0f" stroke-width="0.3">1.10000</text>
<text transform="matrix(1 0 0.001 1 -0.5770 0)" x="1332.62" y="577.0" fill="#c4c4c4" font-size="16" textLength="50.2" lengthAdjust="spacingAndGlyphs" stroke="#0f0f0f" stroke-width="0.3">1.09000</text>
<text transform="matrix(1 0 0.001 1 -0.6370 0)" x="1332.62" y="637.0" fill="#c4c4c4" font-size="16" textLength="50.2" lengthAdjust="spacingAndGlyphs" stroke="#0f0f0f" stroke-width="0.3">1.08000</text>
<text transform="matrix(1 0 0.001 1 -0.6970 0)" x="1332.62" y="697.0" fill="#c4c4c4" font-size="16" textLength="50.2" lengthAdjust="spacingAndGlyphs" stroke="#0f0f0f" stroke-width="0.3">1.07000</text>
<rect x="1322" y="276" width="72" height="39" rx="2" ry="2" fill="#089981"/><rect x="1322" y="276" width="4" height="39" fill="#089981"/>
<text transform="matrix(1 0 0.001 1 -0.2920 0)" x="1333.42" y="292.0" fill="#ffffff" font-size="16" textLength="49.79" lengthAdjust="spacingAndGlyphs" stroke="#089981" stroke-width="0.25">1.13760</text>
<text transform="matrix(1 0 0.001 1 -0.3100 0)" x="1332.14" y="310.0" fill="#c4e5df" font-size="16" textLength="56.87" lengthAdjust="spacingAndGlyphs" stroke="#089981" stroke-width="0.25">01:06:03</text>
<text transform="matrix(1 0 0.001 1 -0.7520 0)" x="49.56" y="752.0" fill="#c4c4c4" font-size="16" textLength="15.1" lengthAdjust="spacingAndGlyphs" stroke="#0f0f0f" stroke-width="0.3">25</text>
<text transform="matrix(1 0 0.001 1 -0.7520 0)" x="139.55" y="752.0" fill="#c4c4c4" font-size="16" textLength="15.33" lengthAdjust="spacingAndGlyphs" stroke="#0f0f0f" stroke-width="0.3">27</text>
<text transform="matrix(1 0 0.001 1 -0.7520 0)" x="268.45" y="752.0" fill="#d2d2d2" font-size="16" font-weight="700" textLength="25.04" lengthAdjust="spacingAndGlyphs" stroke="#0f0f0f" stroke-width="0.1">Apr</text>
<text transform="matrix(1 0 0.001 1 -0.7520 0)" x="368.53" y="752.0" fill="#c4c4c4" font-size="16" textLength="7.47" lengthAdjust="spacingAndGlyphs" stroke="#0f0f0f" stroke-width="0.3">3</text>
<text transform="matrix(1 0 0.001 1 -0.7520 0)" x="450.3" y="752.0" fill="#c4c4c4" font-size="16" textLength="7.72" lengthAdjust="spacingAndGlyphs" stroke="#0f0f0f" stroke-width="0.3">6</text>
<text transform="matrix(1 0 0.001 1 -0.7520 0)" x="548.3" y="752.0" fill="#c4c4c4" font-size="16" textLength="7.72" lengthAdjust="spacingAndGlyphs" stroke="#0f0f0f" stroke-width="0.3">9</text>
<text transform="matrix(1 0 0.001 1 -0.7520 0)" x="634.93" y="752.0" fill="#c4c4c4" font-size="16" textLength="14.2" lengthAdjust="spacingAndGlyphs" stroke="#0f0f0f" stroke-width="0.3">11</text>
<text transform="matrix(1 0 0.001 1 -0.7520 0)" x="724.11" y="752.0" fill="#c4c4c4" font-size="16" textLength="15.57" lengthAdjust="spacingAndGlyphs" stroke="#0f0f0f" stroke-width="0.3">15</text>
<text transform="matrix(1 0 0.001 1 -0.7520 0)" x="814.09" y="752.0" fill="#c4c4c4" font-size="16" textLength="15.82" lengthAdjust="spacingAndGlyphs" stroke="#0f0f0f" stroke-width="0.3">17</text>
<text transform="matrix(1 0 0.001 1 -0.7520 0)" x="897.56" y="752.0" fill="#c4c4c4" font-size="16" textLength="15.1" lengthAdjust="spacingAndGlyphs" stroke="#0f0f0f" stroke-width="0.3">20</text>
<text transform="matrix(1 0 0.001 1 -0.7520 0)" x="994.55" y="752.0" fill="#c4c4c4" font-size="16" textLength="15.33" lengthAdjust="spacingAndGlyphs" stroke="#0f0f0f" stroke-width="0.3">23</text>
<text transform="matrix(1 0 0.001 1 -0.7520 0)" x="1084.56" y="752.0" fill="#c4c4c4" font-size="16" textLength="15.1" lengthAdjust="spacingAndGlyphs" stroke="#0f0f0f" stroke-width="0.3">25</text>
<text transform="matrix(1 0 0.001 1 -0.7520 0)" x="1174.55" y="752.0" fill="#c4c4c4" font-size="16" textLength="15.33" lengthAdjust="spacingAndGlyphs" stroke="#0f0f0f" stroke-width="0.3">29</text>
<text transform="matrix(1 0 0.001 1 -0.7520 0)" x="1256.97" y="752.0" fill="#d2d2d2" font-size="16" font-weight="700" textLength="29.05" lengthAdjust="spacingAndGlyphs" stroke="#0f0f0f" stroke-width="0.1">May</text>
<text transform="matrix(1 0 0.001 1 -0.7920 0)" x="41.74" y="792.0" fill="#d6d6d6" font-size="16" textLength="90.1" lengthAdjust="spacingAndGlyphs" stroke="#1f1f1f" stroke-width="0.3">TradingView</text>
</svg></body></html>
